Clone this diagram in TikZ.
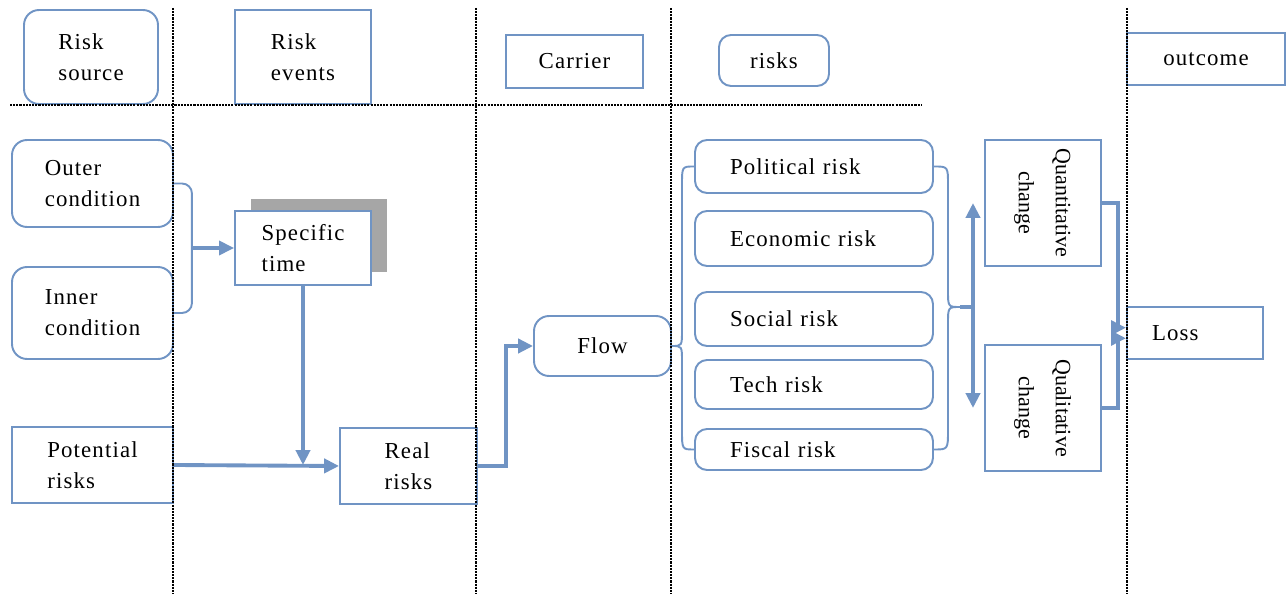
\documentclass[tikz,border=0pt]{standalone}
\usepackage{fontspec}
\setmainfont{Liberation Serif}[LetterSpace=5]
\newfontfamily\turnfont{Liberation Serif}
\usetikzlibrary{arrows.meta}
\definecolor{lineblue}{RGB}{112,148,196}
\definecolor{shadowgray}{RGB}{166,166,166}
\newcommand{\turntext}[2]{\rotatebox{-90}{\turnfont\fontsize{12.5}{16}\selectfont\begin{tabular}{@{}c@{}}#1\\[5pt] #2\end{tabular}}}
\tikzset{
	box/.style={draw=lineblue, line width=1.1pt, inner sep=0pt, font=\fontsize{13}{17.6}\selectfont},
	rbox/.style={box, rounded corners=0.3cm},
	riskbox/.style={box, rounded corners=0.24cm, minimum width=4.76cm, text width=3.36cm, inner xsep=0.7cm, align=left},
	sep/.style={black, line width=1.3pt, dash pattern=on 1.2pt off 0.6pt},
	link/.style={draw=lineblue, line width=1.1pt},
	arrow/.style={draw=lineblue, line width=2.2pt, -{Triangle[length=8.5pt,width=8pt]}},
}
\begin{document}
\begin{tikzpicture}[x=0.02cm, y=-0.02cm]
	\useasboundingbox (0,0) rectangle (1286,594);
	\node[rbox, minimum width=2.68cm, minimum height=1.88cm, align=left] (srchead) at (91,57) {Risk\\ source};
	\node[box, minimum width=2.72cm, minimum height=1.88cm, align=left] (evthead) at (303,57) {Risk\\ events};
	\node[box, minimum width=2.74cm, minimum height=1.06cm] (carhead) at (574.5,61.5) {Carrier};
	\node[box, rounded corners=0.24cm, minimum width=2.2cm, minimum height=1.02cm] (riskhead) at (774,60.5) {risks};
	\node[box, minimum width=3.16cm, minimum height=1.04cm] (outhead) at (1206,59) {outcome};
	\node[rbox, minimum width=3.22cm, minimum height=1.74cm, align=left] (outer) at (92.5,183.5) {Outer\\ condition};
	\node[rbox, minimum width=3.22cm, minimum height=1.84cm, align=left] (inner) at (92.5,313) {Inner\\ condition};
	\fill[shadowgray] (251,199) rectangle (387,272);
	\node[box, fill=white, minimum width=2.72cm, minimum height=1.48cm, align=left] (spec) at (303,248) {Specific\\ time};
	\node[box, minimum width=3.22cm, minimum height=1.52cm, align=left] (pot) at (92.5,465) {Potential\\ risks};
	\node[box, minimum width=2.74cm, minimum height=1.52cm, align=left] (real) at (408.5,466) {Real\\ risks};
	\node[rbox, minimum width=2.74cm, minimum height=1.2cm] (flow) at (602.5,346) {Flow};
	\node[riskbox, minimum height=1.06cm] (pol) at (814,166.5) {Political risk};
	\node[riskbox, minimum height=1.1cm] (eco) at (814,238.5) {Economic risk};
	\node[riskbox, minimum height=1.08cm] (soc) at (814,319) {Social risk};
	\node[riskbox, minimum height=0.98cm] (tech) at (814,384.5) {Tech risk};
	\node[riskbox, minimum height=0.82cm] (fis) at (814,449.5) {Fiscal risk};
	\node[box, minimum width=2.32cm, minimum height=2.52cm] (quan) at (1043,203) {\turntext{Quantitative}{change}};
	\node[box, minimum width=2.32cm, minimum height=2.52cm] (qual) at (1043,408) {\turntext{Qualitative}{change}};
	\node[box, minimum width=2.72cm, minimum height=1.04cm, text width=1.72cm, inner xsep=0.5cm, align=left] (loss) at (1195,333) {Loss};

	\draw[link, rounded corners=0.2cm] (outer.east) -- ++(18,0) |- (inner.east);
	\coordinate (oimid) at (191,248);
	\draw[arrow, line width=1.8pt] (oimid) -- (spec.west);
	\draw[arrow] (spec.south) -- (spec.south |- pot.east);
	\draw[arrow] (pot.east) -- (real.west);
	\draw[arrow] (real.east) -- ++(28,0) |- (flow.west);

	\draw[link] (pol.west) .. controls (682,166.5) .. (682,185) -- (682,330) .. controls (682,346) .. (flow.east);
	\draw[link] (flow.east) .. controls (682,346) .. (682,362) -- (682,430) .. controls (682,449.5) .. (fis.west);
	\coordinate (rbtip) at (960,307);
	\draw[link] (pol.east) .. controls (948,166.5) .. (948,185) -- (948,290) .. controls (948,307) .. (rbtip);
	\draw[link] (rbtip) .. controls (948,307) .. (948,324) -- (948,430) .. controls (948,449.5) .. (fis.east);
	\draw[arrow] (rbtip) -| (973,203);
	\draw[arrow] (rbtip) -| (973,408);
	\draw[arrow] (quan.east) -- ++(16,0) |- ([yshift=3pt]loss.west);
	\draw[arrow] (qual.east) -- ++(16,0) |- ([yshift=-3pt]loss.west);

	\foreach \x in {173,476,671,1127}
		\draw[sep] (\x,8) -- (\x,594);
	\draw[sep] (10,105) -- (922,105);
\end{tikzpicture}
\end{document}
